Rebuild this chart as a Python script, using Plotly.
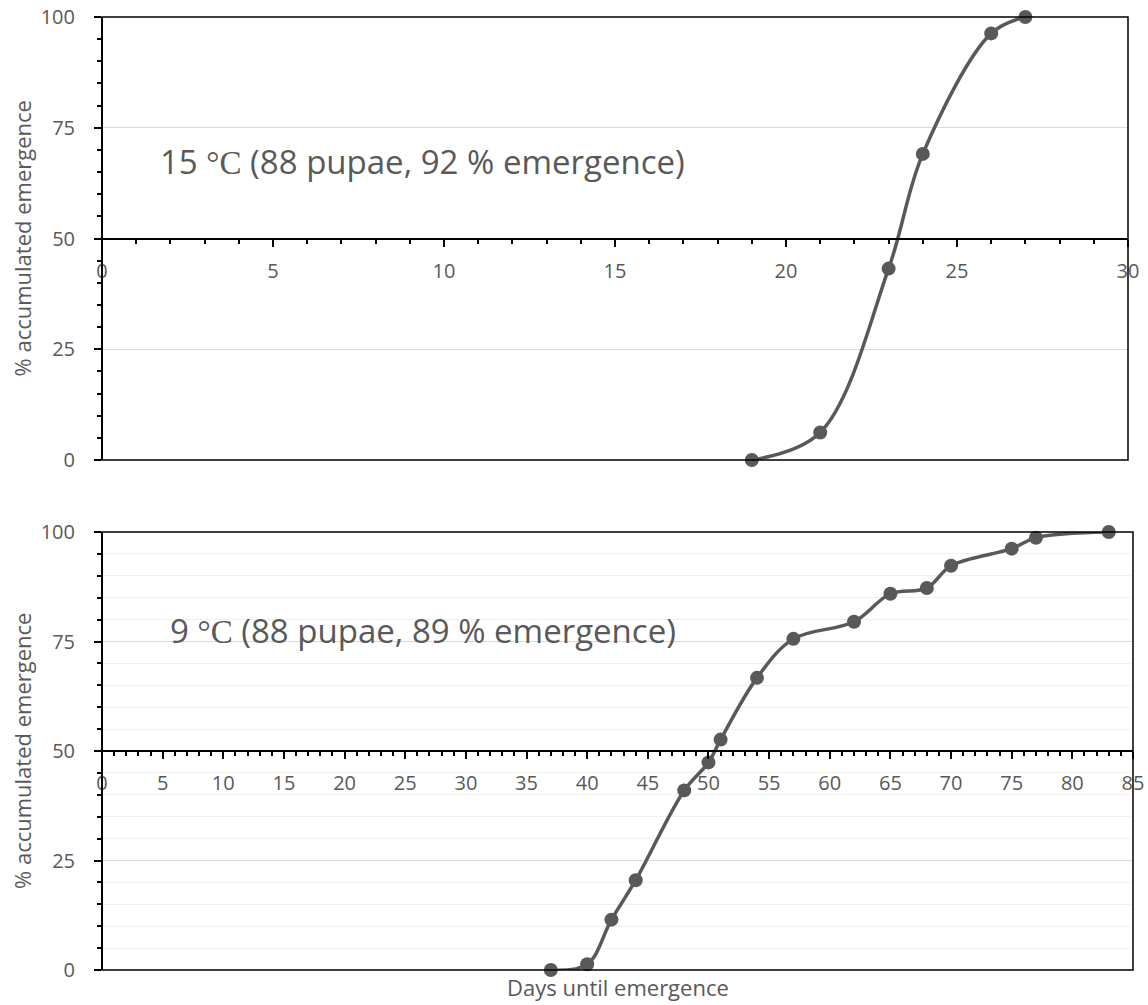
import plotly.graph_objects as go

# Data
days_15 = [19, 21, 23, 24, 26, 27]
pct_15 = [0, 6.2, 43.2, 69.1, 96.3, 100]

days_9 = [37, 40, 42, 44, 48, 50, 51, 54, 57, 62, 65, 68, 70, 75, 77, 83]
pct_9 = [0, 1.3, 11.5, 20.5, 41.0, 47.4, 52.6, 66.7, 75.6, 79.5, 85.9, 87.2, 92.3, 96.2, 98.7, 100]

y_ticks = [0, 25, 50, 75, 100]
label_15 = '15 <span style="font-family:Liberation Serif, serif">°C</span> (88 pupae, 92 % emergence)'
label_9 = '9 <span style="font-family:Liberation Serif, serif">°C</span> (88 pupae, 89 % emergence)'
y_title = "% accumulated emergence"
x_title = "Days until emergence"

W, H = 1148, 1005
GRAY = "#595959"
FONT = "Open Sans"

def px_x(p):
    return p / W

def px_y(p):
    return 1 - p / H

top_dom_y = [px_y(460), px_y(17)]
bot_dom_y = [px_y(970), px_y(532)]
top_dom_x = [px_x(102), px_x(1128)]
bot_dom_x = [px_x(102), px_x(1133)]

fig = go.Figure()

line_style = dict(color=GRAY, width=3.5, shape="spline", smoothing=1)
marker_style = dict(color=GRAY, size=14)

fig.add_trace(go.Scatter(x=days_15, y=pct_15, mode="lines+markers", line=line_style,
                         marker=marker_style, xaxis="x", yaxis="y", cliponaxis=False,
                         showlegend=False))
fig.add_trace(go.Scatter(x=days_9, y=pct_9, mode="lines+markers", line=line_style,
                         marker=marker_style, xaxis="x2", yaxis="y2", cliponaxis=False,
                         showlegend=False))

tickfont = dict(family=FONT, size=20, color=GRAY)

def xaxis_cfg(dom, ydom, rng, dtick):
    return dict(domain=dom, range=rng, anchor="free", position=(ydom[0] + ydom[1]) / 2,
                showline=True, linecolor="black", linewidth=2,
                ticks="outside", ticklen=7, tickwidth=1.5, tickcolor="black",
                dtick=dtick, tick0=0, showgrid=False, zeroline=False,
                tickfont=tickfont, ticklabelstandoff=7,
                minor=dict(dtick=1, ticks="outside", ticklen=4, tickwidth=1.5,
                           tickcolor="black", showgrid=False),
                automargin=False, fixedrange=True)

def yaxis_cfg(dom, xpos, minor_grid):
    return dict(domain=dom, range=[0, 100], anchor="free", position=xpos, tickvals=y_ticks,
                showline=True, linecolor="black", linewidth=2,
                ticks="outside", ticklen=7, tickwidth=1.5, tickcolor="black",
                showgrid=True, gridcolor="#d9d9d9", gridwidth=1, zeroline=False,
                tickfont=tickfont, ticklabelstandoff=15,
                minor=dict(dtick=5, tick0=0, ticks="outside", ticklen=4, tickwidth=1.5,
                           tickcolor="black", showgrid=minor_grid, gridcolor="#f0f0f0",
                           gridwidth=1),
                automargin=False, fixedrange=True)

fig.update_layout(
    width=W, height=H,
    margin=dict(l=0, r=0, t=0, b=0),
    paper_bgcolor="white", plot_bgcolor="white",
    xaxis=xaxis_cfg(top_dom_x, top_dom_y, [0, 30], 5),
    yaxis=yaxis_cfg(top_dom_y, top_dom_x[0], False),
    xaxis2=xaxis_cfg(bot_dom_x, bot_dom_y, [0, 85], 5),
    yaxis2=yaxis_cfg(bot_dom_y, bot_dom_x[0], True),
)

# frames (top, right, bottom borders)
for xr, yr in [("x", "y"), ("x2", "y2")]:
    fig.add_shape(type="rect", xref=f"{xr} domain", yref=f"{yr} domain",
                  x0=0, x1=1, y0=0, y1=1, line=dict(color="black", width=1.5),
                  layer="above")

# axis titles and labels
for dom in (top_dom_y, bot_dom_y):
    fig.add_annotation(text=y_title, xref="paper", yref="paper", x=px_x(22),
                       y=(dom[0] + dom[1]) / 2, textangle=-90, showarrow=False,
                       font=dict(family=FONT, size=22, color=GRAY),
                       xanchor="center", yanchor="middle")

fig.add_annotation(text=x_title, xref="paper", yref="paper", x=px_x(618), y=px_y(987),
                   showarrow=False, font=dict(family=FONT, size=22, color=GRAY),
                   xanchor="center", yanchor="middle")

fig.add_annotation(text=label_15, xref="paper", yref="paper", x=px_x(158), y=px_y(161),
                   showarrow=False, font=dict(family=FONT, size=33, color=GRAY),
                   xanchor="left", yanchor="middle")
fig.add_annotation(text=label_9, xref="paper", yref="paper", x=px_x(168), y=px_y(630),
                   showarrow=False, font=dict(family=FONT, size=33, color=GRAY),
                   xanchor="left", yanchor="middle")

fig.write_html("out.html")
